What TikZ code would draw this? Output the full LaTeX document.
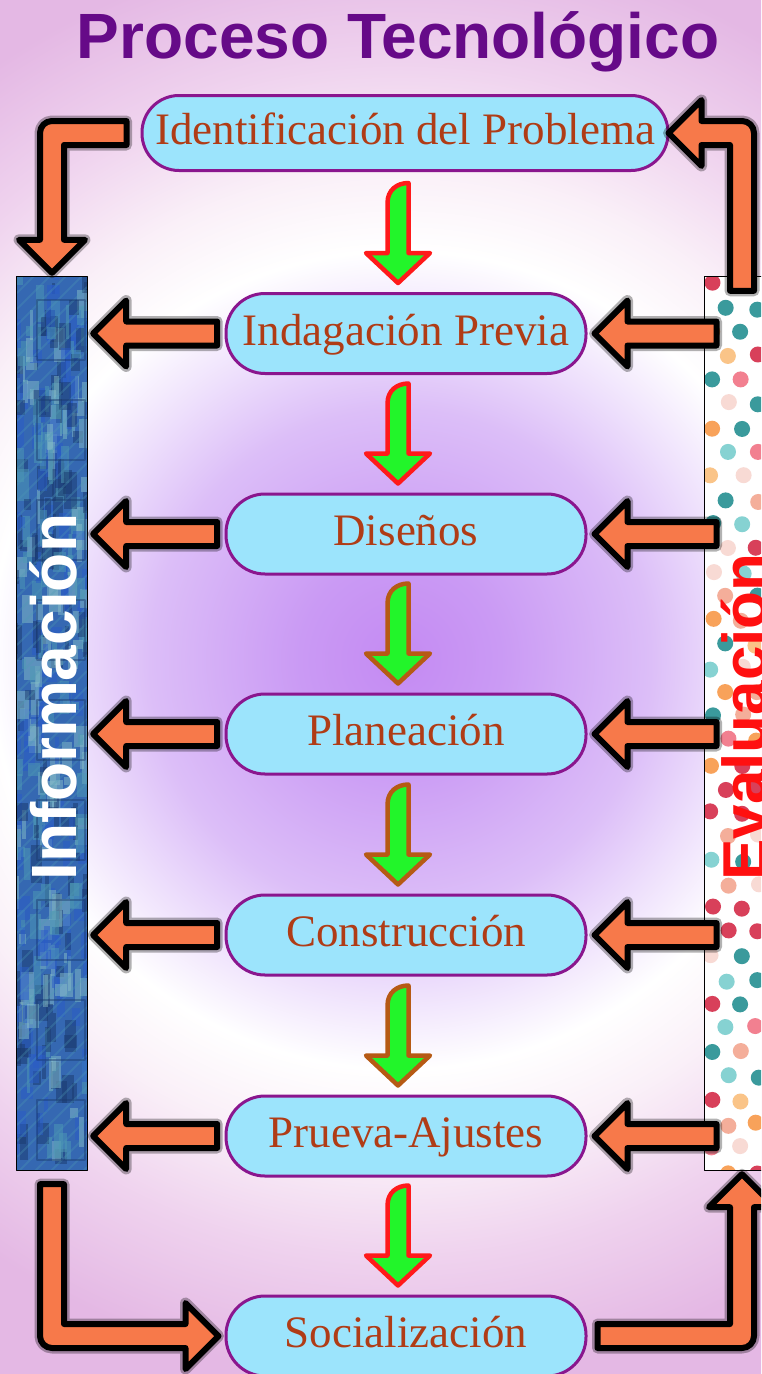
\documentclass[tikz,border=0pt]{standalone}
\usepackage{fontspec}
\setmainfont{Liberation Serif}
\setsansfont{Liberation Sans}
\usetikzlibrary{calc}

\definecolor{moradot}{HTML}{660A88}
\definecolor{celeste}{HTML}{9CE4FC}
\definecolor{bordecaja}{HTML}{8A168E}
\definecolor{letracaja}{HTML}{B03C16}
\definecolor{naranja}{HTML}{F7794A}
\definecolor{verde}{HTML}{22F52A}
\definecolor{rojo}{HTML}{FF1A1A}
\definecolor{cafe}{HTML}{B65A14}
\definecolor{rojoeval}{HTML}{FF1010}
% fondo
\definecolor{fondo0}{HTML}{C48AF2}
\definecolor{fondo1}{HTML}{CA9AF4}
\definecolor{fondo2}{HTML}{DCBEF8}
\definecolor{fondo3}{HTML}{EEE0FC}
\definecolor{fondo4}{HTML}{FAF0F8}
\definecolor{fondo5}{HTML}{EFD2EE}
\definecolor{fondo6}{HTML}{E4B8E4}
% textura de Informacion
\definecolor{azul0}{HTML}{3568B2}
\definecolor{tex0}{HTML}{2A5CC8}
\definecolor{tex1}{HTML}{4E9AB4}
\definecolor{tex2}{HTML}{86BCC8}
\definecolor{tex3}{HTML}{1A3A6E}
% puntos de Evaluacion
\definecolor{punto0}{HTML}{3A9A9C}
\definecolor{punto1}{HTML}{86D2D2}
\definecolor{punto2}{HTML}{F4AE9A}
\definecolor{punto3}{HTML}{F8A25A}
\definecolor{punto4}{HTML}{D8405A}
\definecolor{punto5}{HTML}{F28090}
\definecolor{punto6}{HTML}{F8DAD4}
\definecolor{punto7}{HTML}{FAC488}

% 25bp = borde del cuadro sombreado
\pgfdeclareradialshading{fondo}{\pgfpoint{0bp}{0bp}}{%
  color(0bp)=(fondo0); color(3.5bp)=(fondo1); color(8.7bp)=(fondo2);
  color(11.5bp)=(fondo3); color(14.2bp)=(white); color(17bp)=(fondo4);
  color(20.8bp)=(fondo5); color(25bp)=(fondo6); color(50bp)=(fondo6)}

\begin{document}
\begin{tikzpicture}[x=1pt,y=1pt,line join=round,
  caja/.style={draw=bordecaja,line width=3pt,fill=celeste,rounded corners=39pt,
    minimum width=360pt,minimum height=80pt,text=letracaja,
    font=\fontsize{45}{45}\selectfont,text height=32pt,text depth=9pt},
  barra/.style={minimum width=70pt,minimum height=893pt,inner sep=0pt},
  naranjaf/.style={draw=black,line width=6pt,fill=naranja,
    preaction={draw=black,line width=11pt,opacity=0.3}},
  verdef/.style={draw=rojo,line width=4.5pt,fill=verde},
  verdecafe/.style={verdef,draw=cafe},
  letrero/.style={rotate=90,anchor=base,font=\sffamily\bfseries\fontsize{64}{64}\selectfont}]
\useasboundingbox (0,0) rectangle (761,-1374);
\clip (0,0) rectangle (761,-1374);
% fondo
\shade[shading=fondo] (400,-660) ++(-720,-720) rectangle ++(1440,1440);

% The two bars
\node[barra] (info) at (52,-723.5) {};
\node[barra,minimum width=74pt] (evalu) at (742,-723.5) {};

\begin{scope}
\clip (info.south west) rectangle (info.north east);
\fill[azul0] (info.south west) rectangle (info.north east);
\pgfmathsetseed{7}
\foreach \k in {1,...,380}
{
	\pgfmathsetmacro\px{12+rnd*72}
	\pgfmathsetmacro\py{-277-rnd*893}
	\pgfmathsetmacro\pw{3+rnd*10}
	\pgfmathsetmacro\ph{8+rnd*30}
	\pgfmathrandominteger{\pc}{0}{3}
	\fill[tex\pc,opacity=0.5] (\px,\py) rectangle ++(\pw,\ph);
}
\foreach \k in {0,...,60}
	\draw[tex1,opacity=0.3,line width=2pt] (17,{-277-\k*16}) -- ++(70,70);
\foreach \yy in {300,400,...,1150}
	\draw[tex3,opacity=0.45,line width=1.5pt] (37,{-\yy}) rectangle ++(48,-60);
\end{scope}
\draw[line width=1.2pt] (info.south west) rectangle (info.north east);

\begin{scope}
\clip (evalu.south west) rectangle (evalu.north east);
\fill[white] (evalu.south west) rectangle (evalu.north east);
\pgfmathsetseed{21}
\foreach \fila in {0,...,37}
{
	\foreach \col in {0,1,2}
	{
		\pgfmathsetmacro\px{710+mod(\fila,2)*15+\col*30+rnd*4}
		\pgfmathsetmacro\py{-282-\fila*24-rnd*4}
		\pgfmathrandominteger{\pc}{0}{7}
		\fill[punto\pc] (\px,\py) circle (8pt);
	}
}
\end{scope}
\draw[line width=1.2pt] (evalu.south west) rectangle (evalu.north east);

% The steps
\node[caja,minimum width=526pt,minimum height=75pt,rounded corners=37pt] (ident) at (405,-133) {Identificación del Problema};
\node[caja] (indag) at (406,-333.5) {Indagación Previa};
\node[caja] (disenos) at (406,-534) {Diseños};
\node[caja] (planea) at (406,-734) {Planeación};
\node[caja] (constr) at (406,-935) {Construcción};
\node[caja] (prueba) at (406,-1136) {Prueva-Ajustes};
\node[caja] (social) at (406,-1336) {Socialización};

% Green arrows between the steps
\foreach \caja/\estilo in {indag/verdef,disenos/verdef,planea/verdecafe,constr/verdecafe,prueba/verdecafe,social/verdef}
{
	\draw[\estilo] ($(\caja.north)+(-8,9)$) -- ++(32,30) -- ++(-21.5,0) -- ++(0,70)
		.. controls +(-11.5,0) and +(0,13) .. ++(-21,-20) -- ++(0,-50) -- ++(-21.5,0) -- cycle;
}

% Orange arrows to both bars
\foreach \caja in {indag,disenos,planea,constr,prueba}
{
	\draw[naranjaf] ($(info.east |- \caja.west)+(6,0)$) -- ++(33,33) -- ++(0,-21) -- ++(91,0)
		-- ++(0,-24) -- ++(-91,0) -- ++(0,-21) -- cycle;
	\draw[naranjaf] ($(\caja.east)+(7,0)$) -- ++(33,33) -- ++(0,-21) -- ++(89,0)
		-- ++(0,-24) -- ++(-89,0) -- ++(0,-21) -- cycle;
}

% The elbows
\draw[naranjaf] let \p1=($(ident.west)+(-14,0)$), \p2=($(info.north)+(0,4)$) in
	(\x1,{\y1+12pt}) -- (\x2,{\y1+12pt}) arc[start angle=90,end angle=180,radius=12pt]
	-- ({\x2-12pt},{\y2+33pt}) -- ({\x2-33pt},{\y2+33pt}) -- (\x2,\y2)
	-- ({\x2+33pt},{\y2+33pt}) -- ({\x2+12pt},{\y2+33pt}) -- ({\x2+12pt},{\y1-12pt})
	-- (\x1,{\y1-12pt}) -- cycle;
\draw[naranjaf] let \p1=($(evalu.north)+(0,-14)$), \p2=($(ident.east)+(-1,0)$) in
	({\x1-12pt},\y1) -- ({\x1-12pt},{\y2-12pt}) -- ({\x2+33pt},{\y2-12pt}) -- ({\x2+33pt},{\y2-33pt})
	-- (\x2,\y2) -- ({\x2+33pt},{\y2+33pt}) -- ({\x2+33pt},{\y2+12pt}) -- (\x1,{\y2+12pt})
	arc[start angle=90,end angle=0,radius=12pt] -- ({\x1+12pt},\y1) -- cycle;
\draw[naranjaf] let \p1=($(info.south)+(0,-14)$), \p2=($(social.west)+(-6,0)$) in
	({\x1-12pt},\y1) -- ({\x1-12pt},\y2) arc[start angle=180,end angle=270,radius=12pt]
	-- ({\x2-33pt},{\y2-12pt}) -- ({\x2-33pt},{\y2-33pt}) -- (\x2,\y2)
	-- ({\x2-33pt},{\y2+33pt}) -- ({\x2-33pt},{\y2+12pt}) -- ({\x1+12pt},{\y2+12pt})
	-- ({\x1+12pt},\y1) -- cycle;
\draw[naranjaf] let \p1=($(social.east)+(10,0)$), \p2=($(evalu.south)+(0,-4)$) in
	(\x1,{\y1+12pt}) -- ({\x2-12pt},{\y1+12pt}) -- ({\x2-12pt},{\y2-33pt}) -- ({\x2-33pt},{\y2-33pt})
	-- (\x2,\y2) -- ({\x2+33pt},{\y2-33pt}) -- ({\x2+12pt},{\y2-33pt}) -- ({\x2+12pt},\y1)
	arc[start angle=0,end angle=-90,radius=12pt] -- (\x1,{\y1-12pt}) -- cycle;

% Titles
\node[font=\sffamily\bfseries\fontsize{64}{64}\selectfont,text=moradot,anchor=base] (titulo) at (398,-58) {Proceso Tecnológico};
\node[letrero,text=white] (infotexto) at (76,-697) {Información};
\node[letrero,text=rojoeval,font=\sffamily\bfseries\fontsize{62}{62}\selectfont] (evaltexto) at (766,-717) {Evaluación};
\end{tikzpicture}
\end{document}
